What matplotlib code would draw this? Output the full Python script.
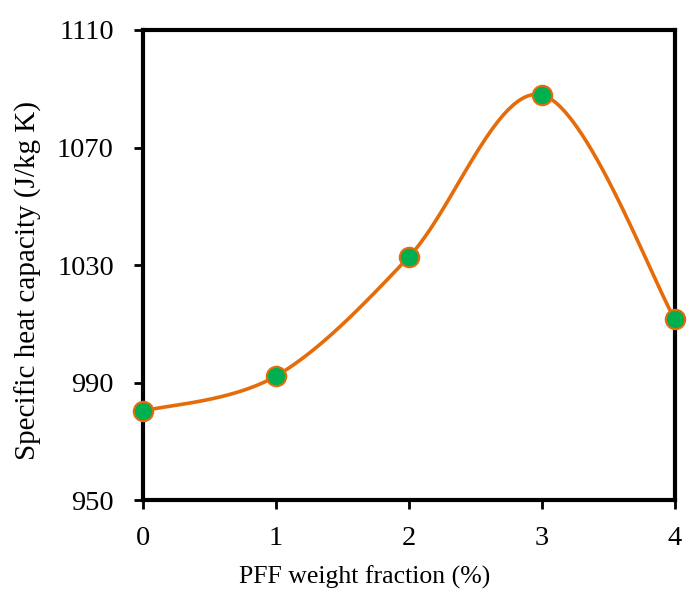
import numpy as np
import matplotlib
matplotlib.use("Agg")
import matplotlib.pyplot as plt

plt.rcParams['font.family'] = ['Liberation Serif', 'DejaVu Serif']

x_vals = [0, 1, 2, 3, 4]
cp_vals = [980.3, 992.2, 1032.8, 1087.9, 1011.5]
x_ticks = [0, 1, 2, 3, 4]
y_ticks = [950, 990, 1030, 1070, 1110]


def excel_smooth(x, y, n=60):
    x = np.asarray(x, float)
    y = np.asarray(y, float)
    px, py = [], []
    m = len(x)
    for i in range(m - 1):
        x0, y0 = (x[i - 1], y[i - 1]) if i > 0 else (x[i], y[i])
        x3, y3 = (x[i + 2], y[i + 2]) if i + 2 < m else (x[i + 1], y[i + 1])
        x1, y1 = x[i], y[i]
        x2, y2 = x[i + 1], y[i + 1]
        c1x = x1 + (x2 - x0) / 6
        c1y = y1 + (y2 - y0) / 6
        c2x = x2 - (x3 - x1) / 6
        c2y = y2 - (y3 - y1) / 6
        t = np.linspace(0, 1, n)
        bx = (1 - t) ** 3 * x1 + 3 * (1 - t) ** 2 * t * c1x + 3 * (1 - t) * t ** 2 * c2x + t ** 3 * x2
        by = (1 - t) ** 3 * y1 + 3 * (1 - t) ** 2 * t * c1y + 3 * (1 - t) * t ** 2 * c2y + t ** 3 * y2
        px.extend(bx)
        py.extend(by)
    return np.array(px), np.array(py)


fig = plt.figure(figsize=(6.92, 5.94), dpi=100)
ax = fig.add_axes([0.2066, 0.1582, 0.9754 - 0.2066, 0.9495 - 0.1582])

sx, sy = excel_smooth(x_vals, cp_vals)
ax.plot(sx, sy, color='#E46C0A', lw=2.6, zorder=2, clip_on=False)
ax.plot(x_vals, cp_vals, 'o', ms=14, mfc='#00B050', mec='#E46C0A', mew=1.5,
        zorder=3, clip_on=False)

ax.set_xlim(0, 4)
ax.set_ylim(950, 1110)
ax.set_xticks(x_ticks)
ax.set_yticks(y_ticks)
ax.set_xticklabels([str(v) for v in x_ticks])
ax.set_yticklabels([str(v) for v in y_ticks])
for s in ax.spines.values():
    s.set_linewidth(3)
ax.tick_params(direction='out', length=6.5, width=2, labelsize=20.5)
ax.tick_params(axis='x', pad=12)
ax.tick_params(axis='y', pad=14.5)
ax.set_xlabel('PFF weight fraction (%)', fontsize=18.5)
ax.set_ylabel('Specific heat capacity (J/kg K)', fontsize=21)
ax.xaxis.set_label_coords(0.417, -0.14)
ax.yaxis.set_label_coords(-0.19, 0.466)

fig.savefig('out.png', dpi=100)
